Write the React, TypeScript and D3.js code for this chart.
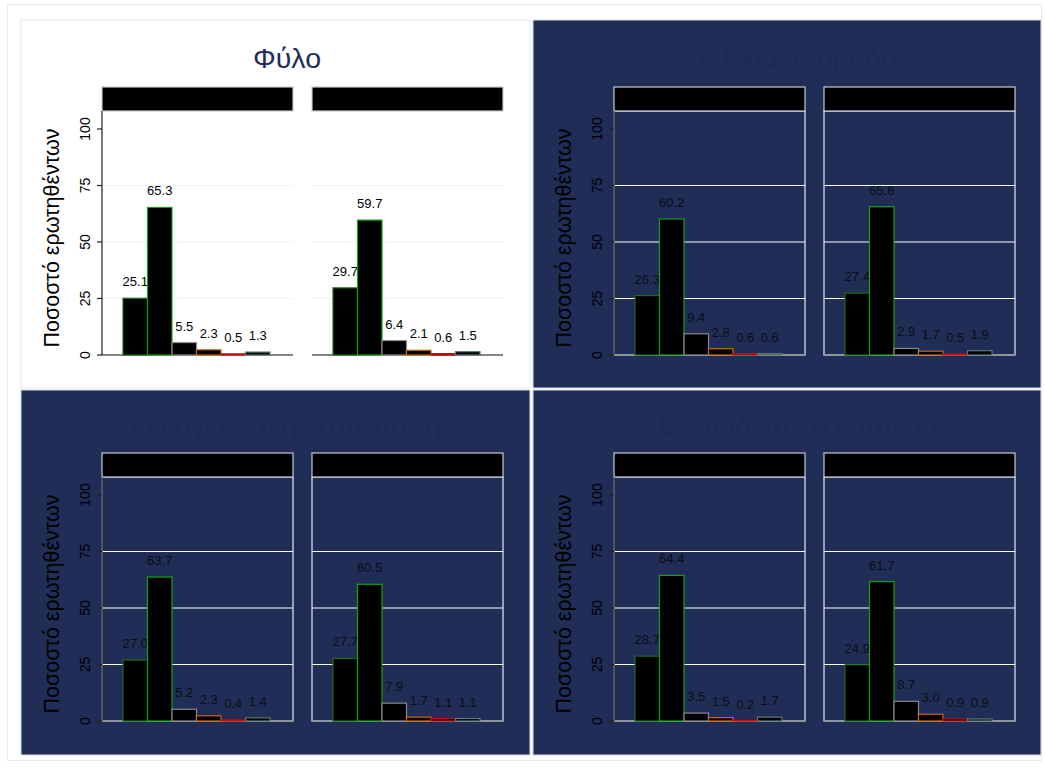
import React from "react";
import * as d3 from "d3";

const PANEL_TITLES = ["Φύλο", "Ηλικιακή ομάδα", "Οικογενειακή κατάσταση", "Εκπαιδευτικό επίπεδο"];
const STRIP_LABELS = [
  ["Άνδρας", "Γυναίκα"],
  ["18-44", "45+"],
  ["Έγγαμος/η", "Άγαμος/η"],
  ["Χαμηλό", "Υψηλό"],
];
const CATEGORIES = ["Α", "Β", "Γ", "Δ", "Ε", "ΣΤ"];
const Y_TICKS = [0, 25, 50, 75, 100];
const GRID_TICKS = [25, 50, 75];

const SEX_MEN = [25.1, 65.3, 5.5, 2.3, 0.5, 1.3];
const SEX_WOMEN = [29.7, 59.7, 6.4, 2.1, 0.6, 1.5];
const AGE_A = [26.3, 60.2, 9.4, 2.8, 0.6, 0.6];
const AGE_B = [27.4, 65.6, 2.9, 1.7, 0.5, 1.9];
const MAR_A = [27.0, 63.7, 5.2, 2.3, 0.4, 1.4];
const MAR_B = [27.7, 60.5, 7.9, 1.7, 1.1, 1.1];
const EDU_A = [28.7, 64.4, 3.5, 1.5, 0.2, 1.7];
const EDU_B = [24.9, 61.7, 8.7, 3.0, 0.9, 0.9];

const PANEL_DATA = [
  [SEX_MEN, SEX_WOMEN],
  [AGE_A, AGE_B],
  [MAR_A, MAR_B],
  [EDU_A, EDU_B],
];

const BAR_STROKES = ["#1e6a1e", "#18a018", "#8a8a8a", "#c86a10", "#c01010", "#607878"];

const FONT = "Arial, 'Liberation Sans', sans-serif";
const NAVY = "#1f2d57";

function Panel({ idx }: { idx: number }) {
  const dx = idx % 2 === 0 ? 0 : 512;
  const dy = idx < 2 ? 0 : 366;
  const dark = idx !== 0;
  const bgX = idx % 2 === 0 ? 21 : 533;
  const bgY = idx < 2 ? 20 : 390;
  const bgW = idx % 2 === 0 ? 509 : 508;
  const bgH = idx < 2 ? 368 : 365;

  const y = d3.scaleLinear().domain([0, 100]).range([355 + dy, 129 + dy]);
  const plotTop = 111 + dy;
  const plotBottom = 355 + dy;
  const stripTop = 87 + dy;

  return (
    <g>
      <rect x={bgX} y={bgY} width={bgW} height={bgH} fill={dark ? NAVY : "#ffffff"} stroke={dark ? "#d8e0e6" : "#e2eaee"} strokeWidth={1} />
      <text x={287 + dx} y={68 + dy} textAnchor="middle" fontFamily={FONT} fontSize={28.5} fill={dark ? "#1d2b54" : "#1e2d5c"}>
        {PANEL_TITLES[idx]}
      </text>
      <text
        transform={`translate(${59 + dx},${238 + dy}) rotate(-90)`}
        textAnchor="middle"
        fontFamily={FONT}
        fontSize={21.5}
        fill="#000"
      >
        Ποσοστό ερωτηθέντων
      </text>
      {[0, 1].map((s) => {
        const x0 = 102 + dx + s * 210;
        const w = 191;
        const x = d3.scaleBand<string>().domain(CATEGORIES).range([x0 + 21, x0 + 168]).padding(0);
        const vals = PANEL_DATA[idx][s];
        return (
          <g key={s}>
            {GRID_TICKS.map((t) => (
              <line key={t} x1={x0} x2={x0 + w} y1={y(t)} y2={y(t)} stroke={dark ? "#ffffff" : "#eef3f3"} strokeWidth={1} />
            ))}
            {dark && (
              <rect x={x0} y={plotTop} width={w} height={plotBottom - plotTop} fill="none" stroke="#e8ecf2" strokeWidth={1.2} />
            )}
            <line x1={x0} x2={x0 + w} y1={plotBottom} y2={plotBottom} stroke={dark ? "#8c929a" : "#5a5a5a"} strokeWidth={1.5} />
            {vals.map((v, i) => {
              const bx = x(CATEGORIES[i]) as number;
              const bw = x.bandwidth();
              const top = y(v);
              return (
                <g key={i}>
                  <rect x={bx} y={top} width={bw} height={plotBottom - top} fill="#000" stroke={BAR_STROKES[i]} strokeWidth={1.2} />
                  <text x={bx + bw / 2} y={top - 12} textAnchor="middle" fontFamily={FONT} fontSize={13} fill={dark ? "#0d0d12" : "#000"}>
                    {v.toFixed(1)}
                  </text>
                </g>
              );
            })}
            <rect x={x0} y={stripTop} width={w} height={plotTop - stripTop} fill="#000" stroke="#c4ccd4" strokeWidth={1.2} />
            <text x={x0 + w / 2} y={stripTop + 17} textAnchor="middle" fontFamily={FONT} fontSize={14} fill="#000">
              {STRIP_LABELS[idx][s]}
            </text>
            {s === 0 && (
              <g>
                <line x1={x0} x2={x0} y1={plotTop} y2={plotBottom} stroke="#222" strokeWidth={1.2} />
                {Y_TICKS.map((t) => (
                  <g key={t}>
                    <line x1={x0 - 5} x2={x0} y1={y(t)} y2={y(t)} stroke="#222" strokeWidth={1.2} />
                    <text
                      transform={`translate(${x0 - 12},${y(t)}) rotate(-90)`}
                      textAnchor="middle"
                      fontFamily={FONT}
                      fontSize={14}
                      fill="#000"
                    >
                      {t}
                    </text>
                  </g>
                ))}
              </g>
            )}
          </g>
        );
      })}
    </g>
  );
}

export default function App() {
  return (
    <svg
      width={1045}
      height={767}
      style={{ position: "absolute", left: 0, top: 0, background: "#ffffff" }}
    >
      <rect x={7.5} y={4.5} width={1034} height={756} fill="#ffffff" stroke="#e4ecef" strokeWidth={1} />
      {[0, 1, 2, 3].map((i) => (
        <Panel key={i} idx={i} />
      ))}
    </svg>
  );
}
